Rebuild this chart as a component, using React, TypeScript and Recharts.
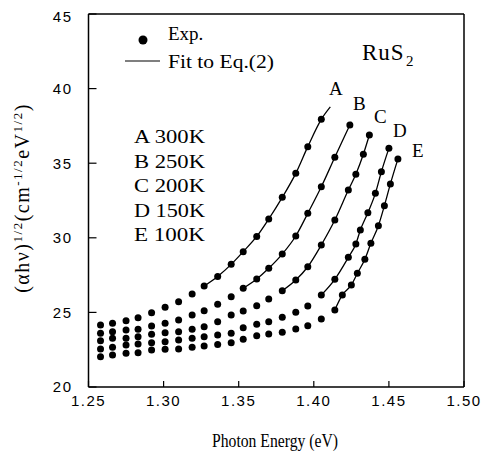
import React from 'react';
import { ComposedChart, Scatter, Line, XAxis, YAxis } from 'recharts';

// photon energies (eV) shared by the low-energy part of every curve
const energyGrid = [1.258, 1.266, 1.275, 1.283, 1.292, 1.301, 1.310, 1.319, 1.327, 1.336,
  1.345, 1.353, 1.362, 1.370, 1.379, 1.388, 1.396, 1.405, 1.414];

// extra energies measured near the top of the steeper curves
const bExtraX = [1.424];
const cExtraX = [1.423, 1.428, 1.433, 1.437];
const dExtraX = [1.423, 1.428, 1.431, 1.436, 1.441, 1.445, 1.450];
const eExtraX = [1.419, 1.425, 1.429, 1.434, 1.438, 1.443, 1.447, 1.451, 1.456];

// (alpha h nu)^1/2 values
const aY = [24.16, 24.27, 24.44, 24.64, 24.98, 25.34, 25.72, 26.23, 26.77, 27.41,
  28.22, 29.07, 30.09, 31.26, 32.71, 34.32, 36.11, 37.94];
const bY = [23.60, 23.71, 23.82, 23.87, 24.09, 24.27, 24.49, 24.83, 25.11, 25.54,
  26.05, 26.62, 27.24, 27.96, 28.91, 30.12, 31.64, 33.42, 35.40, 37.56];
const cY = [23.10, 23.26, 23.26, 23.37, 23.53, 23.64, 23.71, 23.87, 24.04, 24.38,
  24.83, 25.09, 25.45, 25.90, 26.45, 27.17, 28.06, 29.52, 31.19, 33.20, 34.26, 35.60, 36.89];
const dY = [22.55, 22.66, 22.82, 22.88, 22.97, 23.04, 23.15, 23.26, 23.37, 23.49,
  23.60, 23.97, 24.20, 24.38, 24.67, 25.01, 25.43, 26.17, 27.22, 28.69, 29.58, 30.52,
  31.68, 32.98, 34.43, 36.00];
const eY = [22.03, 22.14, 22.26, 22.30, 22.48, 22.53, 22.55, 22.66, 22.75, 22.85,
  22.97, 23.20, 23.44, 23.55, 23.67, 23.89, 24.11, 24.56, 25.16, 26.17, 26.84, 27.62,
  28.56, 29.63, 30.81, 32.15, 33.61, 35.28];

// index where the fitted curve starts, and where it runs past the last point
const fitStart = { A: 8, B: 11, C: 14, D: 17, E: 18 };
const aFitEnd = { x: 1.411, y: 38.77 };
const bFitEnd = { x: 1.425, y: 37.78 };

const xTicks = [1.25, 1.3, 1.35, 1.4, 1.45, 1.5];
const yTicks = [20, 25, 30, 35, 40, 45];

const curveLabels = ['A', 'B', 'C', 'D', 'E'];
const tempLabels = ['A 300K', 'B 250K', 'C 200K', 'D 150K', 'E 100K'];

const pts = (xs: number[], ys: number[]) => ys.map((y, i) => ({ x: xs[i], y }));

const aPts = pts(energyGrid.slice(0, 18), aY);
const bPts = pts([...energyGrid, ...bExtraX], bY);
const cPts = pts([...energyGrid, ...cExtraX], cY);
const dPts = pts([...energyGrid, ...dExtraX], dY);
const ePts = pts([...energyGrid, ...eExtraX], eY);

const fits = [
  [...aPts.slice(fitStart.A), aFitEnd],
  [...bPts.slice(fitStart.B), bFitEnd],
  cPts.slice(fitStart.C),
  dPts.slice(fitStart.D),
  ePts.slice(fitStart.E),
];

const dot = (p: any) => <circle cx={p.cx} cy={p.cy} r={3.5} fill="#000" />;

const serif = '"Liberation Serif", "Times New Roman", serif';
const tickStyle = { fontFamily: '"Liberation Sans", Arial, sans-serif', fontSize: 15, fill: '#000', letterSpacing: 1.5 };

export default function App() {
  const W = 481, H = 457;
  return (
    <div style={{ position: 'relative', width: W, height: H }}>
      <ComposedChart width={W} height={H} margin={{ top: 1, right: 20, left: 0, bottom: 54 }}>
        <XAxis xAxisId="b" type="number" dataKey="x" domain={[1.25, 1.5]} ticks={xTicks}
          tickFormatter={(v: number) => v.toFixed(2)} tick={tickStyle} height={24}
          tickSize={-6} tickMargin={14} axisLine={{ stroke: '#000', strokeWidth: 1.5 }}
          tickLine={{ stroke: '#000', strokeWidth: 1.2 }} allowDataOverflow />
        <XAxis xAxisId="t" orientation="top" type="number" domain={[1.25, 1.5]} ticks={xTicks}
          tick={false} height={5} tickSize={-4} axisLine={{ stroke: '#000', strokeWidth: 1.5 }}
          tickLine={{ stroke: '#000' }} />
        <YAxis yAxisId="l" type="number" dataKey="y" domain={[20, 45]} ticks={yTicks} width={80.5}
          tick={tickStyle} tickSize={-8} tickMargin={24}
          axisLine={{ stroke: '#000', strokeWidth: 1.5 }} tickLine={{ stroke: '#000', strokeWidth: 1.2 }} />
        <YAxis yAxisId="r" orientation="right" type="number" domain={[20, 45]} ticks={yTicks}
          tick={false} width={5} tickSize={-4} axisLine={{ stroke: '#000', strokeWidth: 1.5 }}
          tickLine={{ stroke: '#000' }} />
        {[aPts, bPts, cPts, dPts, ePts].map((d, i) => (
          <Scatter key={'s' + i} xAxisId="b" yAxisId="l" data={d} dataKey="y" fill="#000"
            shape={dot} isAnimationActive={false} />
        ))}
        {fits.map((d, i) => (
          <Line key={'f' + i} xAxisId="b" yAxisId="l" data={d} dataKey="y" type="monotone"
            stroke="#000" strokeWidth={1.3} dot={false} activeDot={false} isAnimationActive={false} />
        ))}
      </ComposedChart>
      <svg width={W} height={H} style={{ position: 'absolute', left: 0, top: 0, pointerEvents: 'none' }}>
        <g fontFamily={serif} fill="#000">
          <circle cx={135} cy={32} r={4.5} />
          <text x={160} y={32} fontSize={19}>Exp.</text>
          <line x1={117} y1={53} x2={152} y2={53} stroke="#000" strokeWidth={1.2} />
          <text x={160} y={60} fontSize={19} textLength={106} lengthAdjust="spacingAndGlyphs">Fit to Eq.(2)</text>
          <text x={354} y={52} fontSize={23} letterSpacing={1}>RuS</text>
          <text x={398} y={58} fontSize={15}>2</text>
          {tempLabels.map((t, i) => (
            <text key={t} x={126} y={135 + i * 24.5} fontSize={18} textLength={71} lengthAdjust="spacingAndGlyphs">{t}</text>
          ))}
          {curveLabels.map((l, i) => (
            <text key={l} x={[321, 345, 366, 385, 404][i]} y={[87, 102, 115, 129, 149][i]} fontSize={19}>{l}</text>
          ))}
          <text x={267} y={439} fontSize={19} textAnchor="middle" textLength={126} lengthAdjust="spacingAndGlyphs">Photon Energy (eV)</text>
          <text transform="translate(21,190) rotate(-90)" fontSize={20} letterSpacing={1.5} textAnchor="middle">
            (αhν)<tspan fontSize={13} dy={-7}>1/2</tspan><tspan dy={7}>(cm</tspan><tspan fontSize={13} dy={-7}>-1/2</tspan><tspan dy={7}>eV</tspan><tspan fontSize={13} dy={-7}>1/2</tspan><tspan dy={7}>)</tspan>
          </text>
        </g>
      </svg>
    </div>
  );
}
